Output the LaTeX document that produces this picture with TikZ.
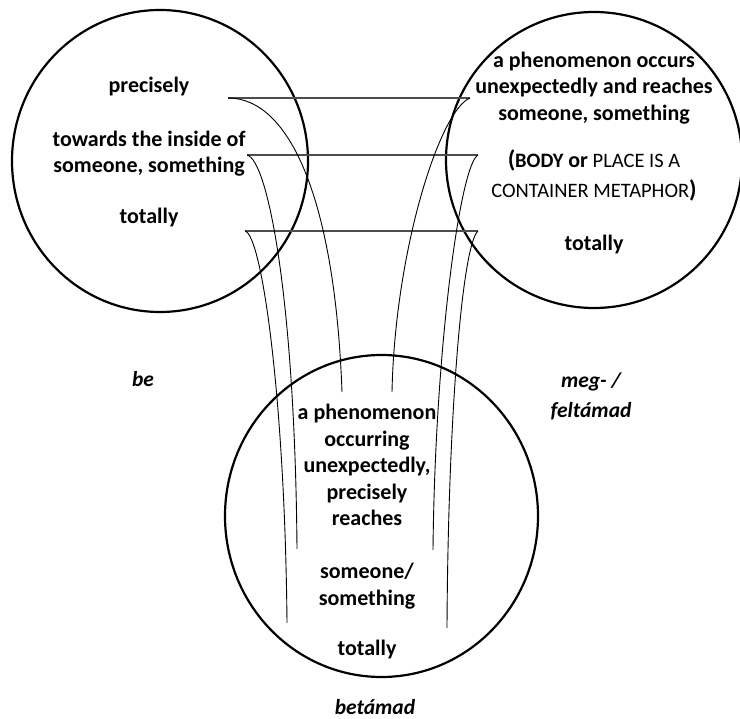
\documentclass[tikz,border=0pt]{standalone}
\usepackage{fontspec}
\setmainfont{Carlito}
\usetikzlibrary{shapes.geometric}
\tikzset{
  ring/.style={draw=black, line width=2.2pt, ellipse, inner sep=0pt},
  txt/.style={font=\fontsize{22}{26.5}\selectfont\bfseries, align=center, inner sep=0pt},
  capstxt/.style={font=\fontsize{20.5}{30}\selectfont, align=center, inner sep=0pt},
  lab/.style={font=\fontsize{21.5}{30}\selectfont\bfseries\itshape, align=center, inner sep=0pt},
  hline/.style={draw=black!70, line width=1.3pt},
  link/.style={draw=black, line width=0.9pt},
}
\begin{document}
\begin{tikzpicture}[x=1pt, y=-1pt]
\useasboundingbox (0,0) rectangle (740,719);
\fill[white] (0,0) rectangle (740,719);

% circles
\node[ring, minimum width=296pt, minimum height=302pt] (cleft) at (160,161) {};
\node[ring, minimum width=296pt, minimum height=296pt] (cright) at (594,160) {};
\node[ring, minimum width=313pt, minimum height=322pt] (cbottom) at (381.5,516) {};

% left circle texts
\node[txt] (lprec) at (149,87) {precisely};
\node[txt] (ltow) at (149,153.5) {towards the inside of\\someone, something};
\node[txt] (ltot) at (149,218) {totally};

% right circle texts
\node[txt] (rphen) at (594,88) {a phenomenon occurs\\unexpectedly and reaches\\someone, something};
\node[capstxt] (rmeta) at (594,175) {{\fontsize{24}{30}\selectfont\bfseries (}\textbf{BODY} \textbf{{\fontsize{22}{30}\selectfont or}} PLACE IS A\\CONTAINER METAPHOR{\fontsize{24}{30}\selectfont\bfseries )}};
\node[txt] (rtot) at (594,245) {totally};

% bottom circle texts
\node[txt] (bphen) at (367,465) {a phenomenon\\occurring\\unexpectedly,\\precisely\\reaches};
\node[txt] (bsome) at (367,586) {someone/\\something};
\node[txt] (btot) at (367,650) {totally};

% labels
\node[lab] (lbe) at (143,379) {be};
\node[lab] (lmeg) at (591,396) {meg- /\\feltámad};
\node[lab] (lbet) at (375,707) {betámad};

% connector end points
\coordinate (L1) at (228,98);
\coordinate (R1) at (470,98);
\coordinate (L2) at (247,155);
\coordinate (R2) at (478,155);
\coordinate (L3) at (245,231);
\coordinate (R3) at (478,231);
\coordinate (B1L) at (342,392);
\coordinate (B1R) at (392,392);
\coordinate (B2L) at (297,549);
\coordinate (B2R) at (433,550);
\coordinate (B3L) at (287,623);
\coordinate (B3R) at (447,628);

% horizontal links
\draw[hline] (L1) -- (R1);
\draw[hline] (L2) -- (R2);
\draw[hline] (L3) -- (R3);

% curved links to the bottom circle
\draw[link] (L1) .. controls +(62,0) and +(-7,-192) .. (B1L);
\draw[link] (R1) .. controls +(-30,12) and +(3,-142) .. (B1R);
\draw[link] (L2) .. controls +(21,5) and +(-2,-249) .. (B2L);
\draw[link] (R2) .. controls +(-18,10) and +(2,-200) .. (B2R);
\draw[link] (L3) .. controls +(17,4) and +(-2,-223) .. (B3L);
\draw[link] (R3) .. controls +(-16,14) and +(1,-208) .. (B3R);
\end{tikzpicture}
\end{document}
